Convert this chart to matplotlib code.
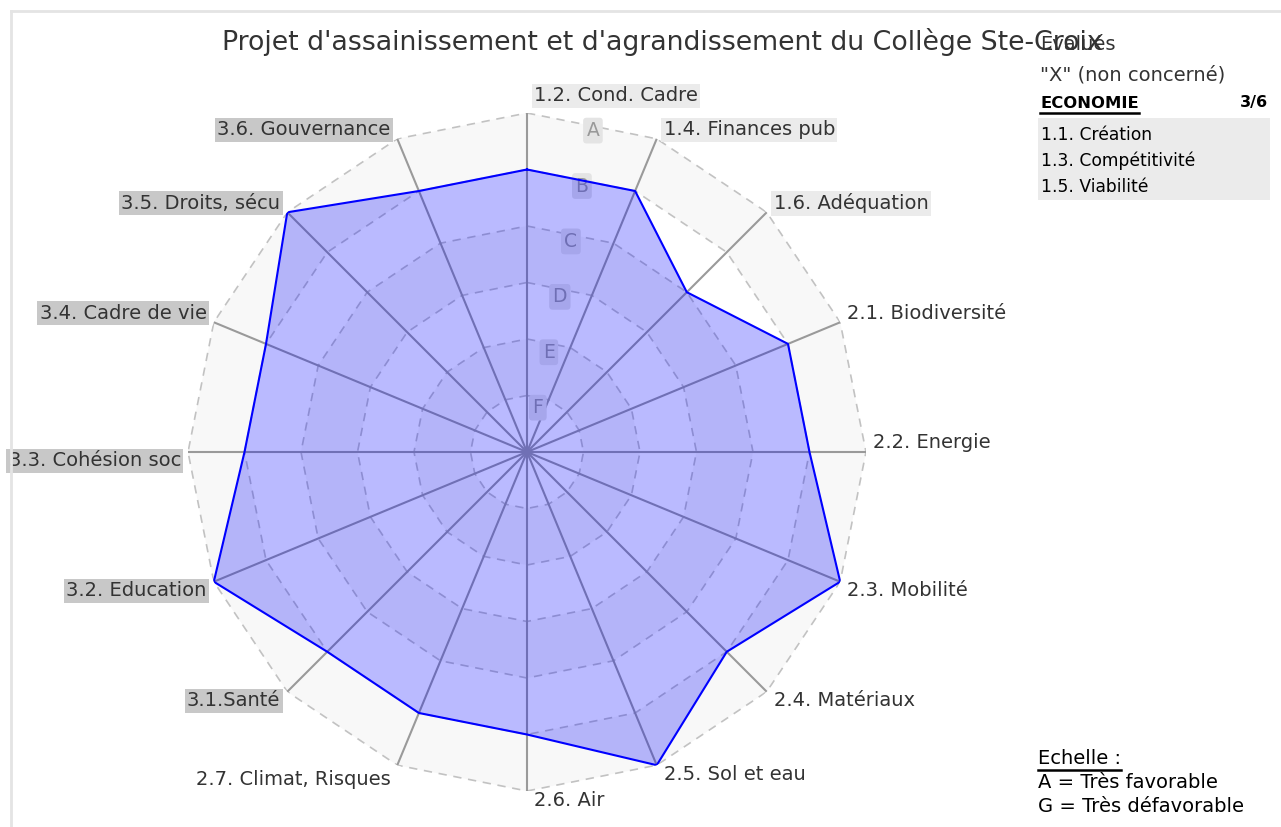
import matplotlib
matplotlib.use('Agg')
import matplotlib.pyplot as plt
import numpy as np
from matplotlib.lines import Line2D
from matplotlib.patches import Rectangle

W, H = 1281, 827

titre = "Projet d'assainissement et d'agrandissement du Collège Ste-Croix"
criteres = ['1.2. Cond. Cadre', '1.4. Finances pub', '1.6. Adéquation',
            '2.1. Biodiversité', '2.2. Energie', '2.3. Mobilité',
            '2.4. Matériaux', '2.5. Sol et eau', '2.6. Air',
            '2.7. Climat, Risques', '3.1.Santé', '3.2. Education',
            '3.3. Cohésion soc', '3.4. Cadre de vie', '3.5. Droits, sécu',
            '3.6. Gouvernance']
# 6 = A (très favorable) ... 0 = G (très défavorable)
notes = [5, 5, 4, 5, 5, 6, 5, 6, 5, 5, 5, 6, 5, 5, 6, 5]
lettres = ['F', 'E', 'D', 'C', 'B', 'A']
non_evalues = ['1.1. Création', '1.3. Compétitivité', '1.5. Viabilité']
theme = 'ECONOMIE'
compte = '3/6'
echelle = ['A = Très favorable', 'G = Très défavorable']

plt.rcParams['font.family'] = ['DejaVu Sans']
txt_col = '#333333'


def fx(px):
    return px / W


def fy(py):
    return 1 - py / H


def start():
    fig = plt.figure(figsize=(W / 100, H / 100), dpi=100)
    fig.patch.set_facecolor('white')

    cx, cy, R = 527, 452, 339
    ax = fig.add_axes([fx(cx - R), fy(cy + R), 2 * R / W, 2 * R / H],
                      projection='polar')
    ax.set_theta_zero_location('N')
    ax.set_theta_direction(-1)
    ax.set_ylim(0, 6)
    ax.grid(False)
    ax.set_xticks([])
    ax.set_yticks([])
    ax.spines['polar'].set_visible(False)
    ax.patch.set_alpha(0)

    n = len(criteres)
    theta = np.arange(n) * 2 * np.pi / n
    tc = np.append(theta, theta[0])
    one = np.ones(n + 1)

    # bandes alternées
    for k in (6, 4, 2):
        ax.fill(np.concatenate([tc, tc[::-1]]),
                np.concatenate([k * one, (k - 1) * one]),
                color='#f8f8f8', lw=0, zorder=0)
    # anneaux pointillés
    for k in range(1, 7):
        ax.plot(tc, k * one, color='#c2c2c2', lw=1.2, ls=(0, (5, 4)), zorder=1)
    # rayons
    for t in theta:
        ax.plot([t, t], [0, 6], color='#9a9a9a', lw=1.5, zorder=2)
    # lettres de l'échelle
    for k, l in enumerate(lettres, start=1):
        ax.annotate(l, xy=(np.pi / n, k - 0.2), xytext=(2, 0),
                    textcoords='offset pixels', ha='center', va='center',
                    fontsize=13.5, color='#999999', zorder=3,
                    bbox=dict(boxstyle='round,pad=0.18', fc='#e4e4e4', ec='none'))

    vals = np.append(notes, notes[0])
    ax.fill(tc, vals, color='#0000ff', alpha=0.27, lw=0, zorder=4)
    ax.plot(tc, vals, color='#0000ff', lw=1.5, zorder=5)

    for i, (t, lab) in enumerate(zip(theta, criteres)):
        ha = 'left' if i <= 8 else 'right'
        upper = i <= 4 or i >= 13
        dx = 7 if ha == 'left' else -7
        dy = 9 if upper else -9
        if i == 0:
            dy = 17
        if i == 9:
            dy = -14
        if lab.startswith('1'):
            bb = dict(boxstyle='square,pad=0.12', fc='#ebebeb', ec='none')
        elif lab.startswith('3'):
            bb = dict(boxstyle='square,pad=0.12', fc='#c8c8c8', ec='none')
        else:
            bb = None
        ax.annotate(lab, xy=(t, 6), xytext=(dx, dy), textcoords='offset pixels',
                    ha=ha, va='center', fontsize=14, color=txt_col,
                    bbox=bb, zorder=6, annotation_clip=False)

    # titre
    fig.text(fx(662), fy(42), titre, ha='center', va='center',
             fontsize=19.3, color=txt_col)

    # cadre
    fig.add_artist(Line2D([fx(11), fx(11)], [fy(11), 0], color='#e4e4e4', lw=2))
    fig.add_artist(Line2D([fx(11), 1], [fy(11), fy(11)], color='#e4e4e4', lw=2))

    # légende en haut à droite
    fig.text(fx(1040), fy(45), 'Evalués', ha='left', va='center',
             fontsize=14, color=txt_col)
    fig.text(fx(1040), fy(75), '"X" (non concerné)', ha='left', va='center',
             fontsize=14, color=txt_col)
    t_theme = fig.text(fx(1040), fy(103), theme, ha='left', va='center',
                       fontsize=11.8, fontweight='bold', color='black')
    fig.text(fx(1268), fy(103), compte, ha='right', va='center',
             fontsize=11.5, fontweight='bold', color='black')
    fig.add_artist(Rectangle((fx(1038), fy(200)), fx(1270 - 1038), (200 - 118) / H,
                             fc='#ebebeb', ec='none', zorder=0))
    for j, item in enumerate(non_evalues):
        fig.text(fx(1041), fy(135 + j * 26), item, ha='left', va='center',
                 fontsize=12.3, color='black')

    # échelle en bas à droite
    t_ech = fig.text(fx(1038), fy(758), 'Echelle :', ha='left', va='center',
                     fontsize=14, color='black')
    for j, e in enumerate(echelle):
        fig.text(fx(1038), fy(782 + j * 24), e, ha='left', va='center',
                 fontsize=14, color='black')

    # soulignements
    rend = fig.canvas.get_renderer()
    for t_obj, gap in ((t_theme, 2), (t_ech, 2)):
        bb = t_obj.get_window_extent(rend)
        y = bb.y0 - gap
        fig.add_artist(Line2D([bb.x0 / W, bb.x1 / W], [y / H, y / H],
                              color='black', lw=1.8))

    fig.savefig('out.png', dpi=100)


if __name__ == "__main__":
    start()
